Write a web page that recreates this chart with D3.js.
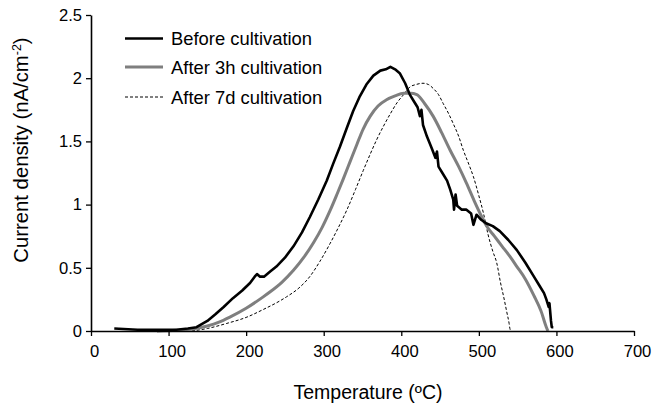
<!DOCTYPE html>
<html>
<head>
<meta charset="utf-8">
<script src="https://cdn.jsdelivr.net/npm/d3@7/dist/d3.min.js"></script>
<style>
  body { margin: 0; background: #fff; }
  svg { display: block; font-family: "Liberation Sans", Arial, sans-serif; }
</style>
</head>
<body>
<svg id="chart" width="653" height="403"></svg>
<script>
// temperature (°C), current density (nA/cm²)
const beforeCultivation = [
  [30,0.02],[60,0.01],[90,0.01],[110,0.01],[125,0.02],[136,0.03],[150,0.08],[160,0.13],
  [171,0.19],[183,0.26],[195,0.32],[205,0.38],[211,0.43],[214,0.45],[218,0.43],[223,0.43],
  [231,0.47],[239,0.51],[250,0.58],[261,0.67],[272,0.78],[282,0.9],[293,1.04],[304,1.19],
  [312,1.32],[321,1.46],[330,1.61],[338,1.74],[346,1.85],[355,1.95],[364,2.02],[373,2.06],
  [380,2.07],[386,2.09],[392,2.07],[398,2.04],[405,1.96],[411,1.87],[416,1.82],[421,1.77],
  [424,1.7],[426,1.75],[428,1.63],[433,1.54],[439,1.45],[444,1.37],[446,1.42],[448,1.3],
  [453,1.25],[459,1.19],[463,1.12],[467,1.04],[468,0.96],[470,1.08],[472,0.99],[478,0.96],
  [484,0.96],[490,0.93],[493,0.84],[497,0.92],[503,0.88],[510,0.85],[518,0.83],[527,0.79],
  [538,0.72],[549,0.64],[560,0.54],[571,0.43],[578,0.36],[584,0.3],[587,0.25],[590,0.19],
  [591,0.22],[593,0.08],[594,0.03],[596,0.03]
];
const after3h = [
  [85,0],[110,0.005],[130,0.015],[150,0.04],[165,0.07],[179,0.11],[200,0.18],[222,0.27],
  [231,0.31],[246,0.385],[261,0.48],[274,0.58],[287,0.7],[298,0.82],[308,0.95],[317,1.08],
  [325,1.2],[334,1.34],[343,1.48],[351,1.6],[360,1.7],[370,1.78],[381,1.83],[392,1.86],
  [403,1.88],[412,1.88],[420,1.87],[430,1.8],[441,1.7],[452,1.57],[463,1.43],[474,1.3],
  [484,1.17],[494,1.03],[504,0.9],[510,0.83],[520,0.75],[530,0.67],[540,0.59],[549,0.51],
  [560,0.41],[571,0.28],[580,0.16],[587,0.03],[589,0]
];
const after7d = [
  [130,0],[150,0.02],[175,0.06],[201,0.11],[222,0.17],[244,0.24],[252,0.27],[268,0.34],
  [282,0.43],[295,0.55],[308,0.69],[319,0.82],[330,0.96],[341,1.12],[351,1.27],[360,1.4],
  [368,1.51],[377,1.62],[386,1.72],[395,1.81],[403,1.87],[411,1.93],[419,1.95],[428,1.96],
  [435,1.95],[441,1.92],[448,1.87],[454,1.8],[461,1.72],[467,1.64],[474,1.54],[480,1.43],
  [487,1.32],[493,1.22],[500,1.07],[506,0.93],[512,0.76],[518,0.63],[523,0.54],[528,0.38],
  [532,0.27],[536,0.15],[539,0.06],[540,0.02],[541,0]
];
const xTicks = [0, 100, 200, 300, 400, 500, 600, 700];
const yTicks = [0, 0.5, 1, 1.5, 2, 2.5];
const yTickLabels = ['0', '0.5', '1', '1.5', '2', '2.5'];
const seriesNames = ['Before cultivation', 'After 3h cultivation', 'After 7d cultivation'];

const margin = { top: 15, right: 19, bottom: 72, left: 91 };
const width = 653, height = 403;
const chartW = width - margin.left - margin.right;
const chartH = height - margin.top - margin.bottom;

const svg = d3.select('#chart');
const g = svg.append('g').attr('transform', `translate(${margin.left},${margin.top})`);

const x = d3.scaleLinear().domain([0, 700]).range([0, chartW]);
const y = d3.scaleLinear().domain([0, 2.5]).range([chartH, 0]);

const series = [
  { name: seriesNames[0], data: beforeCultivation, color: '#000', w: 2.6, dash: null, curve: d3.curveLinear },
  { name: seriesNames[1], data: after3h, color: '#7f7f7f', w: 3, dash: null, curve: d3.curveMonotoneX },
  { name: seriesNames[2], data: after7d, color: '#000', w: 1, dash: '3,2', curve: d3.curveMonotoneX }
];

// draw curves (dashed underneath)
[series[2], series[1], series[0]].forEach(s => {
  g.append('path')
    .datum(s.data)
    .attr('fill', 'none')
    .attr('stroke', s.color)
    .attr('stroke-width', s.w)
    .attr('stroke-dasharray', s.dash)
    .attr('stroke-linejoin', 'round')
    .attr('d', d3.line().x(d => x(d[0])).y(d => y(d[1])).curve(s.curve));
});

// axes
const xAxis = g.append('g')
  .attr('transform', `translate(0,${chartH})`)
  .call(d3.axisBottom(x).tickValues(xTicks).tickSize(5).tickSizeOuter(0).tickPadding(9));
const yAxis = g.append('g')
  .call(d3.axisLeft(y).tickValues(yTicks).tickSize(5).tickSizeOuter(0).tickPadding(4)
    .tickFormat((d, i) => yTickLabels[i]));

[xAxis, yAxis].forEach(a => {
  a.select('.domain').attr('stroke', '#000').attr('stroke-width', 1.6);
  a.selectAll('.tick line').attr('stroke', '#000').attr('stroke-width', 1.3);
  a.selectAll('.tick text')
    .attr('fill', '#000')
    .attr('font-size', 16.6)
    .attr('font-family', '"Liberation Sans", Arial, sans-serif');
});
xAxis.selectAll('.tick text').attr('dx', 3);

// axis titles
svg.append('text')
  .attr('x', 368).attr('y', 399)
  .attr('text-anchor', 'middle')
  .attr('font-size', 19.5)
  .text('Temperature (ºC)');

const yTitle = svg.append('text')
  .attr('transform', 'translate(28,150) rotate(-90)')
  .attr('text-anchor', 'middle')
  .attr('font-size', 20.3);
yTitle.append('tspan').text('Current density (nA/cm');
yTitle.append('tspan').attr('font-size', 12.5).attr('dy', -7).text('-2');
yTitle.append('tspan').attr('dy', 7).text(')');

// legend
const legend = svg.append('g');
const rowY = [38.5, 67, 97];
series.forEach((s, i) => {
  legend.append('line')
    .attr('x1', 125).attr('x2', 163)
    .attr('y1', rowY[i]).attr('y2', rowY[i])
    .attr('stroke', s.color)
    .attr('stroke-width', s.w)
    .attr('stroke-dasharray', s.dash);
  legend.append('text')
    .attr('x', 171).attr('y', rowY[i] + 6.5)
    .attr('font-size', 18.4)
    .text(s.name);
});
</script>
</body>
</html>
